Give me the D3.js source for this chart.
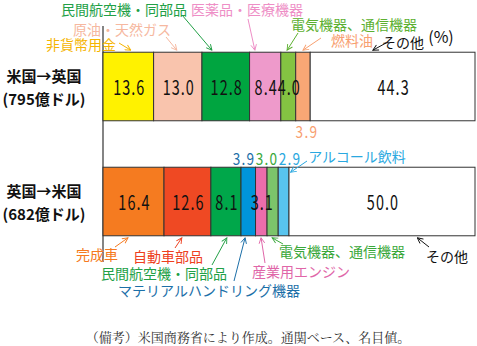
<!DOCTYPE html>
<html lang="ja">
<head>
<meta charset="UTF-8">
<title>米英貿易の品目構成</title>
<script src="https://d3js.org/d3.v7.min.js"></script>
<style>
    body { margin: 0; background: #fff; }
    svg { display: block; }
    text { font-family: "Noto Sans CJK JP", sans-serif; }
    .num { font-size: 20px; letter-spacing: 1.5px; }
    .cat { font-size: 14px; }
    .row { font-size: 15px; font-weight: bold; fill: #111; }
    .note { font-family: "Noto Serif CJK JP", serif; font-size: 13px; fill: #333; }
</style>
</head>
<body>
<svg id="chart" width="477" height="346"></svg>
<script>
    // rows
    const rows = ["米国→英国", "英国→米国"];
    const totals = ["(795億ドル)", "(682億ドル)"];

    // US -> UK
    const usukCats = ["非貨幣用金", "原油・天然ガス", "民間航空機・同部品", "医薬品・医療機器", "電気機器、通信機器", "燃料油", "その他"];
    const usukVals = [13.6, 13.0, 12.8, 8.4, 4.0, 3.9, 44.3];
    const usukFill = ["#fff200", "#f9c4ad", "#00a540", "#ee9acb", "#84c342", "#f9a775", "#ffffff"];
    const usukText = ["#f5b400", "#f6b8a0", "#22a046", "#ee8ec6", "#5cb030", "#f8a070", "#111111"];

    // UK -> US
    const ukusCats = ["完成車", "自動車部品", "民間航空機・同部品", "マテリアルハンドリング機器", "産業用エンジン", "電気機器、通信機器", "アルコール飲料", "その他"];
    const ukusVals = [16.4, 12.6, 8.1, 3.9, 3.1, 3.0, 2.9, 50.0];
    const ukusFill = ["#f57b20", "#ef4923", "#00a74a", "#0095da", "#ec6dab", "#7cc46a", "#58c4ee", "#ffffff"];
    const ukusText = ["#f57a20", "#ee4020", "#22a046", "#1c6fa8", "#e066a8", "#3aa83a", "#2aa8e0", "#111111"];

    const unitLabel = "(%)";
    const note = "（備考）米国商務省により作成。通関ベース、名目値。";

    const svg = d3.select("#chart");

    const x = d3.scaleLinear().domain([0, 100]).range([103, 475]);
    const y = d3.scaleBand().domain(rows).range([26, 262]).paddingInner(0.404).paddingOuter(0.228);

    function segments(cats, vals, fill, txt) {
        let cum = 0;
        return cats.map((c, i) => {
            const s = { cat: c, v: vals[i], x0: cum, x1: cum + vals[i], fill: fill[i], color: txt[i] };
            cum += vals[i];
            return s;
        });
    }
    const segs = [
        segments(usukCats, usukVals, usukFill, usukText),
        segments(ukusCats, ukusVals, ukusFill, ukusText)
    ];

    // axis line
    svg.append("line")
        .attr("x1", x(0)).attr("x2", x(0))
        .attr("y1", y.range()[0]).attr("y2", y.range()[1])
        .attr("stroke", "#333").attr("stroke-width", 1.2);

    // bars
    rows.forEach((r, ri) => {
        svg.append("g").selectAll("rect")
            .data(segs[ri])
            .join("rect")
            .attr("x", d => x(d.x0))
            .attr("y", y(r))
            .attr("width", d => x(d.x1) - x(d.x0))
            .attr("height", y.bandwidth())
            .attr("fill", d => d.fill)
            .attr("stroke", "#333")
            .attr("stroke-width", 1);
    });

    // row labels
    rows.forEach((r, ri) => {
        const cy = y(r) + y.bandwidth() / 2;
        svg.append("text").attr("class", "row")
            .attr("x", 44).attr("y", cy - 11).attr("text-anchor", "middle")
            .attr("dominant-baseline", "central").text(r);
        svg.append("text").attr("class", "row")
            .attr("x", 44).attr("y", cy + 12).attr("text-anchor", "middle")
            .attr("dominant-baseline", "central").text(totals[ri]);
    });

    function num(g, px, py, str, size, color, sx) {
        g.append("text")
            .attr("class", "num")
            .attr("transform", `translate(${px},${py}) scale(${sx},1)`)
            .attr("text-anchor", "middle")
            .attr("dominant-baseline", "central")
            .style("font-size", size + "px")
            .style("fill", color)
            .text(str);
    }
    const nums = svg.append("g");

    // values inside bars
    const inside = [[0, 1, 2, 3, 4, 6], [0, 1, 2, 4, 7]];
    rows.forEach((r, ri) => {
        const cy = y(r) + y.bandwidth() / 2;
        inside[ri].forEach(i => {
            const d = segs[ri][i];
            num(nums, x((d.x0 + d.x1) / 2) + 1, cy, d.v.toFixed(1), 20, "#111", 0.72);
        });
    });

    // fuel oil value under the top bar
    {
        const d = segs[0][5];
        num(nums, x((d.x0 + d.x1) / 2) + 4, y(rows[0]) + y.bandwidth() + 10, d.v.toFixed(1), 16, d.color, 0.85);
    }
    // three small values above the bottom bar
    {
        const grp = [3, 5, 6].map(i => segs[1][i]);
        const gx = (x(grp[0].x0) + x(grp[2].x1)) / 2 + 2;
        const w = 23;
        grp.forEach((d, k) => {
            num(nums, gx + (k - 1) * w, y(rows[1]) - 9, d.v.toFixed(1), 16, d.color, 0.85);
        });
    }

    // arrow markers per colour
    const defs = svg.append("defs");
    const markerId = c => "m" + c.replace("#", "");
    const allColors = Array.from(new Set(usukText.concat(ukusText)));
    allColors.forEach(c => {
        defs.append("marker")
            .attr("id", markerId(c))
            .attr("viewBox", "0 0 10 10")
            .attr("refX", 9).attr("refY", 5)
            .attr("markerWidth", 7).attr("markerHeight", 7)
            .attr("orient", "auto")
            .append("path")
            .attr("d", "M1,1 L9,5 L1,9")
            .attr("fill", "none")
            .attr("stroke", c)
            .attr("stroke-width", 1.3);
    });

    // annotation layout: label centre, arrow start, point along segment, side of bar
    const usukAnno = [
        { lx: 81, ly: 44, ax: 119, ay: 43, f: 0.55, side: "top" },
        { lx: 122, ly: 29, ax: 166, ay: 37, f: 0.48, side: "top" },
        { lx: 124, ly: 9, ax: 182, ay: 15, f: 0.21, side: "top" },
        { lx: 247, ly: 9, ax: 248, ay: 19, f: 0.17, side: "top" },
        { lx: 354, ly: 24, ax: 298, ay: 33, f: 0.42, side: "top" },
        { lx: 352, ly: 40, ax: 321, ay: 38, f: 0.5, side: "top" },
        { lx: 403, ly: 42, ax: 386, ay: 43, f: 0.38, side: "top" }
    ];
    const ukusAnno = [
        { lx: 97, ly: 254, ax: 115, ay: 247, f: 0.41, side: "bottom" },
        { lx: 168, ly: 256, ax: 175, ay: 248, f: 0.38, side: "bottom" },
        { lx: 164, ly: 273, ax: 212, ay: 265, f: 0.53, side: "bottom" },
        { lx: 209, ly: 290, ax: 234, ay: 281, f: 0.28, side: "bottom" },
        { lx: 301, ly: 271, ax: 265, ay: 263, f: 0.48, side: "bottom" },
        { lx: 342, ly: 251, ax: 283, ay: 244, f: 0.45, side: "bottom" },
        { lx: 357, ly: 156, ax: 307, ay: 161, f: 1.15, side: "top" },
        { lx: 447, ly: 256, ax: 429, ay: 247, f: 0.69, side: "bottom" }
    ];

    function annotate(ri, anno) {
        const r = rows[ri];
        const g = svg.append("g");
        anno.forEach((a, i) => {
            const d = segs[ri][i];
            const tx = x(d.x0 + d.v * a.f);
            const ty = a.side === "top" ? y(r) + (a.f > 1 ? 5 : -2) : y(r) + y.bandwidth() + 2;
            g.append("line")
                .attr("x1", a.ax).attr("y1", a.ay)
                .attr("x2", tx).attr("y2", ty)
                .attr("stroke", d.color)
                .attr("stroke-width", 1)
                .attr("marker-end", `url(#${markerId(d.color)})`);
            g.append("text")
                .attr("class", "cat")
                .attr("x", a.lx).attr("y", a.ly)
                .attr("text-anchor", "middle")
                .attr("dominant-baseline", "central")
                .attr("fill", d.color)
                .text(d.cat);
        });
    }
    annotate(0, usukAnno);
    annotate(1, ukusAnno);

    // unit
    svg.append("text")
        .attr("x", 441).attr("y", 36)
        .attr("text-anchor", "middle")
        .attr("dominant-baseline", "central")
        .style("font-size", "16px")
        .attr("fill", "#111")
        .text(unitLabel);

    // note
    svg.append("text")
        .attr("class", "note")
        .attr("x", 248).attr("y", 336)
        .attr("text-anchor", "middle")
        .attr("dominant-baseline", "central")
        .text(note);
</script>
</body>
</html>
